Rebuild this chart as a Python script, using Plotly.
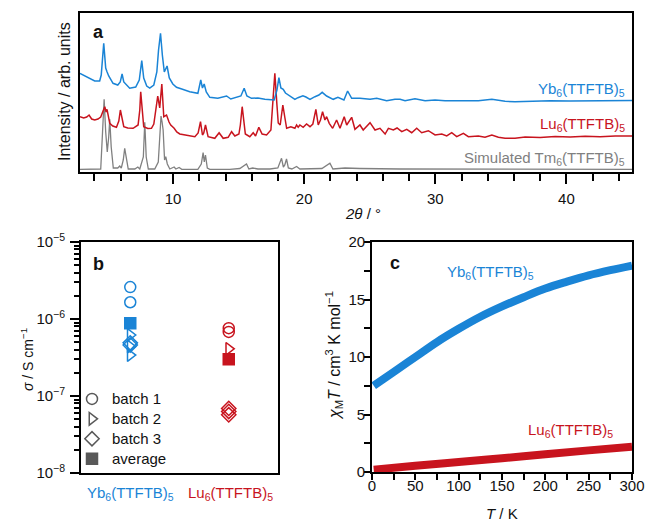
import plotly.graph_objects as go

W, H = 647, 522
BLUE = "#1a84d6"
RED = "#c8141e"
GRAY = "#808080"
DARK = "#595959"
FONT = "Liberation Sans, Arial, Helvetica, sans-serif"

# ---------------- panel a : PXRD (2theta / intensity, arb. units) ----------------
yb_2theta = [2.9, 3.64, 4.02, 4.40, 4.52, 4.71, 4.86, 4.96, 5.09, 5.42, 5.78, 5.97, 6.11, 6.24, 6.69, 7.15,
             7.42, 7.61, 7.76, 7.99, 8.22, 8.53, 8.76, 8.89, 9.04, 9.18, 9.33, 9.54, 9.71, 9.98, 10.26,
             10.66, 11.27, 11.89, 12.11, 12.24, 12.37, 12.53, 12.80, 13.41, 13.72, 14.08, 14.40, 14.84,
             15.17, 15.42, 15.63, 15.98, 16.47, 17.00, 17.71, 17.92, 18.07, 18.22, 18.40, 18.57, 18.78,
             19.06, 19.29, 19.52, 19.90, 20.13, 20.44, 20.82, 21.12, 21.37, 21.71, 22.21, 22.57, 23.03,
             23.31, 23.62, 23.95, 24.25, 25.02, 25.53, 26.29, 26.92, 27.31, 27.69, 28.45, 29.22, 29.98,
             30.74, 32.02, 33.28, 34.31, 35.32, 36.08, 37.23, 38.76, 40.28, 41.81, 43.33, 45.0]
yb_int = [98.7, 93.7, 91.0, 91.0, 97.0, 128.7, 104.0, 100.3, 96.0, 88.7, 87.0, 90.0, 98.0, 90.0, 83.7, 85.0,
          92.0, 111.3, 94.0, 86.0, 84.0, 87.0, 100.0, 122.0, 138.7, 117.0, 100.0, 106.0, 94.0, 88.0, 84.7,
          83.0, 80.3, 78.7, 92.0, 84.0, 88.0, 80.0, 74.7, 73.7, 75.0, 76.0, 73.0, 74.7,
          76.0, 83.7, 76.0, 73.7, 74.0, 72.7, 72.0, 82.0, 94.3, 84.0, 82.7, 79.0, 77.0,
          75.0, 72.7, 74.3, 76.3, 75.0, 72.7, 75.3, 77.0, 79.7, 76.0, 72.7, 74.7, 72.0,
          81.0, 73.7, 74.0, 73.7, 72.7, 73.7, 71.3, 72.7, 72.7, 71.3, 73.3, 71.3, 72.0,
          71.3, 71.3, 71.3, 72.7, 70.7, 70.3, 71.0, 71.3, 71.0, 71.3, 71.5, 71.5]

lu_2theta = [2.9, 3.18, 3.41, 3.59, 3.79, 4.02, 4.27, 4.48, 4.63, 4.79, 4.89, 4.96, 5.17, 5.40, 5.68, 5.86,
             5.98, 6.12, 6.24, 6.54, 6.95, 7.33, 7.46, 7.53, 7.65, 7.76, 8.07, 8.35, 8.53, 8.68, 8.83,
             8.98, 9.14, 9.29, 9.50, 9.69, 9.82, 10.08, 10.28, 10.51, 10.89, 11.27, 11.66, 11.91, 12.09,
             12.24, 12.34, 12.47, 12.67, 13.18, 13.51, 13.82, 14.20, 14.46, 14.71, 15.02, 15.13, 15.27,
             15.40, 15.51, 15.85, 16.11, 16.29, 16.54, 16.79, 17.13, 17.46, 17.61, 17.76, 17.92, 18.02,
             18.17, 18.37, 18.53, 18.66, 18.98, 19.29, 19.42, 19.54, 19.67, 19.92, 20.18, 20.44, 20.66,
             20.89, 21.07, 21.24, 21.40, 21.58, 21.71, 21.91, 22.17, 22.47, 22.73, 23.05, 23.24, 23.41,
             23.62, 23.87, 24.25, 24.50, 25.02, 25.40, 25.78, 26.17, 26.42, 26.80, 27.08, 27.44, 27.82,
             28.20, 28.58, 28.96, 29.47, 29.98, 30.49, 30.87, 31.25, 31.63, 32.14, 32.52, 33.28, 33.79,
             34.31, 34.81, 35.32, 36.08, 36.85, 37.99, 39.14, 40.28, 41.43, 42.57, 43.72, 45.0]
lu_int = [55.3, 54.0, 55.0, 57.0, 53.0, 52.0, 53.0, 55.0, 60.0, 65.3, 60.0, 62.7, 48.7, 46.0, 44.7, 51.0,
          62.0, 52.0, 45.3, 44.0, 43.7, 47.0, 62.0, 80.3, 60.0, 45.3, 43.5, 43.7, 48.0, 62.0, 76.0,
          64.0, 88.0, 55.3, 57.0, 50.0, 47.0, 43.7, 40.0, 38.0, 37.0, 36.0, 35.3, 39.0, 50.3,
          37.0, 39.0, 47.0, 35.3, 33.7, 39.3, 33.7, 34.7, 40.3, 36.0, 38.0, 47.0, 65.3,
          47.0, 38.0, 35.3, 39.3, 36.0, 44.7, 38.0, 37.0, 42.0, 67.0, 98.7, 67.0, 49.0,
          47.0, 67.0, 54.0, 43.7, 45.3, 43.7, 47.0, 44.7, 47.0, 44.7, 48.0, 45.3, 48.0,
          62.7, 47.0, 52.0, 60.3, 52.0, 55.3, 48.7, 43.7, 52.0, 43.7, 55.3, 47.0, 50.0,
          54.7, 42.7, 47.0, 42.0, 49.3, 42.0, 43.7, 38.0, 43.7, 42.0, 44.0, 40.3, 42.7,
          39.3, 43.7, 39.3, 41.3, 37.0, 38.0, 36.0, 39.3, 35.3, 38.7, 35.3, 36.0, 34.7,
          37.0, 34.7, 33.7, 33.7, 35.0, 34.5, 35.5, 35.0, 35.7, 35.3, 36.0, 36.0]

tm_2theta = [2.9, 4.02, 4.48, 4.62, 4.74, 4.86, 4.98, 5.09, 5.17, 5.28, 5.44, 5.78, 5.93, 6.05, 6.20, 6.31,
             6.43, 6.58, 7.08, 7.31, 7.46, 7.73, 7.84, 7.95, 8.11, 8.60, 8.87, 9.01, 9.08, 9.16, 9.24,
             9.35, 9.44, 9.56, 9.75, 10.08, 10.21, 10.46, 10.66, 11.89, 12.15, 12.29, 12.38, 12.47, 12.61,
             12.80, 14.33, 15.09, 15.60, 15.78, 16.08, 16.47, 17.38, 17.99, 18.17, 18.27, 18.41, 18.52,
             18.65, 18.79, 19.06, 19.42, 19.67, 20.44, 21.05, 21.35, 21.96, 22.19, 23.11, 24.25, 27.31, 45.0]
tm_int = [2.7, 2.7, 3.0, 40.0, 72.7, 40.0, 20.0, 35.0, 52.7, 25.0, 4.0, 4.0, 6.0, 4.0, 12.0, 23.7,
          14.0, 3.0, 3.0, 5.0, 3.0, 15.0, 49.7, 15.0, 3.0, 3.0, 10.0, 48.0, 56.0, 50.0, 42.0,
          12.0, 15.3, 8.0, 3.0, 5.0, 3.0, 4.5, 2.7, 2.7, 8.0, 19.3, 10.0, 17.0, 4.0,
          2.7, 2.7, 3.5, 8.0, 3.0, 4.0, 3.0, 3.0, 4.0, 10.0, 13.7, 5.0, 7.0,
          13.0, 4.0, 3.0, 5.5, 3.0, 3.5, 4.0, 3.5, 8.7, 3.0, 4.0, 3.5, 3.0, 2.7]

# ---------------- panel b : conductivity (S/cm) ----------------
compounds = ["Yb<sub>6</sub>(TTFTB)<sub>5</sub>", "Lu<sub>6</sub>(TTFTB)<sub>5</sub>"]
yb_batch1 = [2.6e-6, 1.65e-6]
yb_batch2 = [6.2e-7, 4.4e-7, 3.4e-7]
yb_batch3 = [4.9e-7, 4.6e-7]
yb_avg = [8.8e-7]
lu_batch1 = [7.6e-7, 6.8e-7]
lu_batch2 = [4.1e-7]
lu_batch3 = [6.9e-8, 6.3e-8, 5.7e-8]
lu_avg = [3.0e-7]
legend_names = ["batch 1", "batch 2", "batch 3", "average"]

# ---------------- panel c : chi_M T vs T ----------------
T_yb = [2, 25, 50, 75, 100, 125, 150, 175, 200, 225, 250, 275, 300]
chiT_yb = [7.5, 8.7, 10.0, 11.3, 12.45, 13.5, 14.4, 15.2, 15.95, 16.55, 17.1, 17.55, 17.95]
T_lu = [2, 50, 100, 150, 200, 250, 300]
chiT_lu = [0.2, 0.55, 0.87, 1.2, 1.55, 1.88, 2.2]


def px(x):
    return x / W


def py(y):
    return 1 - y / H


fig = go.Figure()

# panel a traces
fig.add_trace(go.Scatter(x=tm_2theta, y=tm_int, mode="lines", line=dict(color=GRAY, width=1.3),
                         xaxis="x", yaxis="y", showlegend=False))
fig.add_trace(go.Scatter(x=lu_2theta, y=lu_int, mode="lines", line=dict(color=RED, width=1.5),
                         xaxis="x", yaxis="y", showlegend=False))
fig.add_trace(go.Scatter(x=yb_2theta, y=yb_int, mode="lines", line=dict(color=BLUE, width=1.5),
                         xaxis="x", yaxis="y", showlegend=False))


# panel b traces
def pts(idx, vals, symbol, color, size=11):
    return go.Scatter(
        x=[idx] * len(vals), y=vals, mode="markers", xaxis="x2", yaxis="y2", showlegend=False,
        marker=dict(symbol=symbol, size=size, color=color, line=dict(color=color, width=1.5)))


fig.add_trace(pts(0, yb_avg, "square", BLUE, size=11))
fig.add_trace(pts(0, yb_batch1, "circle-open", BLUE))
fig.add_trace(pts(0, yb_batch2, "triangle-right-open", BLUE))
fig.add_trace(pts(0, yb_batch3, "diamond-open", BLUE))
fig.add_trace(pts(1, lu_avg, "square", RED, size=11))
fig.add_trace(pts(1, lu_batch1, "circle-open", RED))
fig.add_trace(pts(1, lu_batch2, "triangle-right-open", RED))
fig.add_trace(pts(1, lu_batch3, "diamond-open", RED))

# legend entries (gray)
for name, sym in zip(legend_names, ["circle-open", "triangle-right-open", "diamond-open", "square"]):
    fig.add_trace(go.Scatter(x=[None], y=[None], mode="markers",
                             name='<span style="font-size:15px">' + name + "</span>",
                             xaxis="x2", yaxis="y2",
                             marker=dict(symbol=sym, size=11, color=DARK, line=dict(color=DARK, width=1.5))))

# panel c traces
fig.add_trace(go.Scatter(x=T_lu, y=chiT_lu, mode="lines", line=dict(color=RED, width=8, shape="spline"),
                         xaxis="x3", yaxis="y3", showlegend=False))
fig.add_trace(go.Scatter(x=T_yb, y=chiT_yb, mode="lines", line=dict(color=BLUE, width=8, shape="spline"),
                         xaxis="x3", yaxis="y3", showlegend=False))

frame = dict(showline=True, linecolor="black", linewidth=1.8, mirror=True, showgrid=False, zeroline=False,
             automargin=False)
tickfont = dict(family=FONT, size=15, color="#111")

fig.update_layout(
    template="none",
    width=W, height=H, autosize=False,
    margin=dict(l=0, r=0, t=0, b=0, pad=0, autoexpand=False),
    paper_bgcolor="white", plot_bgcolor="white",
    font=dict(family=FONT, size=15, color="#111"),
    xaxis=dict(domain=[px(80), px(632)], anchor="y", range=[2.9, 45], **frame,
               ticks="outside", ticklen=10, tickwidth=1.5, tickcolor="black", dtick=10, tick0=0,
               tickfont=tickfont, ticklabelstandoff=2,
               minor=dict(ticks="outside", ticklen=7, tickwidth=1.5, tickcolor="black", dtick=2, tick0=0)),
    yaxis=dict(domain=[py(172), py(13)], anchor="x", range=[0, 159], **frame,
               showticklabels=False, ticks=""),
    xaxis2=dict(domain=[px(81), px(278)], anchor="y2", range=[-0.5, 1.5], **frame,
                showticklabels=False, ticks=""),
    yaxis2=dict(domain=[py(473), py(242)], anchor="x2", type="log", range=[-8, -5], **frame,
                ticks="outside", ticklen=9, tickwidth=1.5, tickcolor="black",
                tickmode="array", tickvals=[1e-8, 1e-7, 1e-6, 1e-5],
                ticktext=["10<sup>−8</sup>", "10<sup>−7</sup>", "10<sup>−6</sup>", "10<sup>−5</sup>"],
                tickfont=tickfont, ticklabelstandoff=2,
                minor=dict(ticks="outside", ticklen=5, tickwidth=1.5, tickcolor="black",
                           tickmode="array",
                           tickvals=[m * 10.0 ** e for e in (-8, -7, -6) for m in range(2, 10)])),
    xaxis3=dict(domain=[px(372), px(632)], anchor="y3", range=[0, 300], **frame,
                ticks="outside", ticklen=6, tickwidth=1.5, tickcolor="black", dtick=50, tick0=0,
                tickfont=tickfont, ticklabelstandoff=-7,
                minor=dict(ticks="outside", ticklen=6, tickwidth=1.5, tickcolor="black", dtick=25, tick0=0)),
    yaxis3=dict(domain=[py(472), py(242)], anchor="x3", range=[0, 20], **frame,
                ticks="outside", ticklen=6, tickwidth=1.5, tickcolor="black", dtick=5, tick0=0,
                tickfont=tickfont, ticklabelstandoff=-4,
                minor=dict(ticks="outside", ticklen=6, tickwidth=1.5, tickcolor="black", dtick=2.5, tick0=0)),
    legend=dict(x=px(72), y=py(384), xanchor="left", yanchor="top", bgcolor="rgba(0,0,0,0)",
                font=dict(family=FONT, size=13, color="#111"), tracegroupgap=0, itemwidth=30,
                borderwidth=0),
)

ann = []


def add(text, x, y, color="#111", size=15, xanchor="center", yanchor="middle", angle=0, bold=False):
    if bold:
        text = "<b>" + text + "</b>"
    ann.append(dict(text=text, x=px(x), y=py(y), xref="paper", yref="paper", showarrow=False,
                    font=dict(family=FONT, size=size, color=color), xanchor=xanchor, yanchor=yanchor,
                    textangle=angle))


# panel a
add("a", 98, 32, size=18, bold=True)
add("Intensity / arb. units", 65, 92, size=16, angle=-90)
add("<i>2θ</i> / °", 363, 213)
add("Yb<sub>6</sub>(TTFTB)<sub>5</sub>", 627, 89, color=BLUE, xanchor="right")
add("Lu<sub>6</sub>(TTFTB)<sub>5</sub>", 627, 124, color=RED, xanchor="right")
add("Simulated Tm<sub>6</sub>(TTFTB)<sub>5</sub>", 627, 158, color=GRAY, xanchor="right")
# panel b
add("b", 98, 264, size=18, bold=True)
add("<i>σ</i> / S cm<sup>−1</sup>", 27, 360, size=14, angle=-90)
add(compounds[0], 130, 493, color=BLUE)
add(compounds[1], 230, 493, color=RED)
# panel c
add("c", 395, 263, size=18, bold=True)
add("<i>χ</i><sub>M</sub><i>T</i> / cm<sup>3</sup> K mol<sup>−1</sup>", 334, 356, size=16, angle=-90)
add("<i>T</i> / K", 502, 513)
add("Yb<sub>6</sub>(TTFTB)<sub>5</sub>", 490, 272, color=BLUE)
add("Lu<sub>6</sub>(TTFTB)<sub>5</sub>", 570, 430, color=RED)

fig.update_layout(annotations=ann)
fig.write_html("out.html", config={"displayModeBar": False},
               post_script="document.body.style.margin='0';document.body.style.padding='0';")
